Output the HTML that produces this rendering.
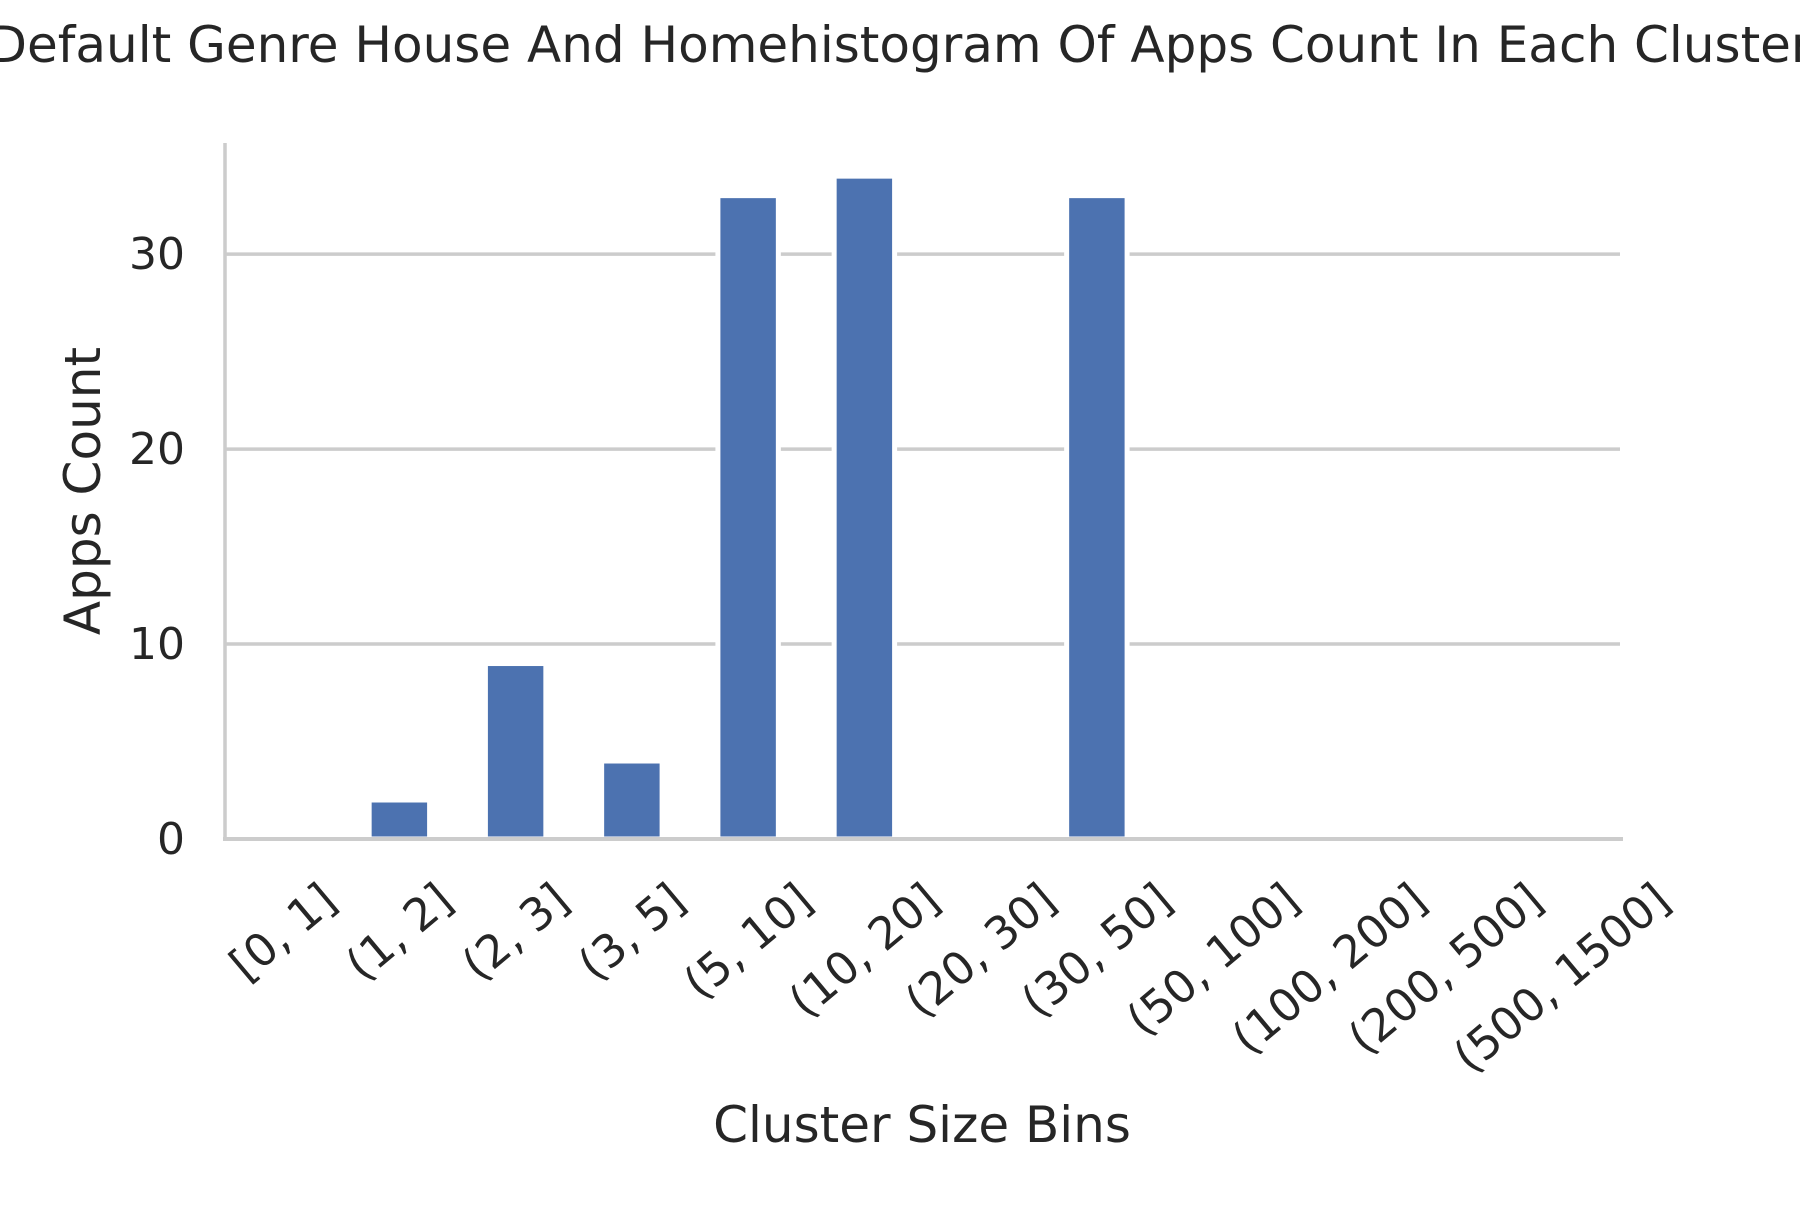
<!DOCTYPE html>
<html><head><meta charset="utf-8"><style>
html,body{margin:0;padding:0;background:#fff}
svg text{font-family:"DejaVu Sans","Liberation Sans",sans-serif;fill:#262626}
</style></head><body>
<svg id="chart" width="1800" height="1200" xmlns="http://www.w3.org/2000/svg">
<text x="900" y="62" font-size="50" text-anchor="middle">Default Genre House And Homehistogram Of Apps Count In Each Cluster</text>
<g id="grid"></g><g id="bars"></g><g id="axes"></g><g id="ticks"></g>
<text x="922" y="1142" font-size="50" text-anchor="middle">Cluster Size Bins</text>
<text transform="translate(100,491) rotate(-90)" font-size="50" text-anchor="middle">Apps Count</text>
</svg>
<script>
const categories=["[0, 1]","(1, 2]","(2, 3]","(3, 5]","(5, 10]","(10, 20]","(20, 30]","(30, 50]","(50, 100]","(100, 200]","(200, 500]","(500, 1500]"];
const values=[0,2,9,4,33,34,0,33,0,0,0,0];
const yTicks=[0,10,20,30];
const NS="http://www.w3.org/2000/svg";
const L=225,R=1620,B=839,T=143,yMax=35.7;
const step=(R-L)/categories.length;
const x=i=>L+step*(i+0.5);
const y=v=>B-(B-T)*v/yMax;
const bw=step*0.52;
function mk(tag,a,p){const e=document.createElementNS(NS,tag);for(const k in a)e.setAttribute(k,a[k]);p.appendChild(e);return e;}
const grid=document.getElementById('grid'),bars=document.getElementById('bars'),axes=document.getElementById('axes'),ticks=document.getElementById('ticks');
yTicks.forEach(t=>{
 if(t>0){const g=mk('line',{x1:L,x2:R,y1:y(t),y2:y(t),stroke:'#cccccc','stroke-width':3.5},grid);
 
 }
 const tx=mk('text',{x:L-40,y:y(t)+15,'font-size':44,'text-anchor':'end'},ticks);tx.textContent=t;
 
 
});
values.forEach((v,i)=>{
 const r=mk('rect',{x:x(i)-bw/2,y:y(v),width:bw,height:B-y(v),fill:'#4c72b0',stroke:'#ffffff','stroke-width':v>0?5:0},bars);
 
 
});
const la=mk('line',{x1:L,x2:L,y1:T,y2:B+2,stroke:'#cccccc','stroke-width':3.5},axes);


const ba=mk('line',{x1:L-2,x2:R+3,y1:B,y2:B,stroke:'#cccccc','stroke-width':4},axes);


const a=40*Math.PI/180;
categories.forEach((c,i)=>{
 const t=mk('text',{'font-size':45,'text-anchor':'middle'},ticks);t.textContent=c;
 
 
 const w=t.getComputedTextLength(),h=40;
 const bh=w*Math.sin(a)+h*Math.cos(a);
 const cy=878+bh/2;
 t.setAttribute('transform','translate('+x(i)+','+cy+') rotate(-40)');
 t.setAttribute('y',15);
});
</script>
</body></html>
